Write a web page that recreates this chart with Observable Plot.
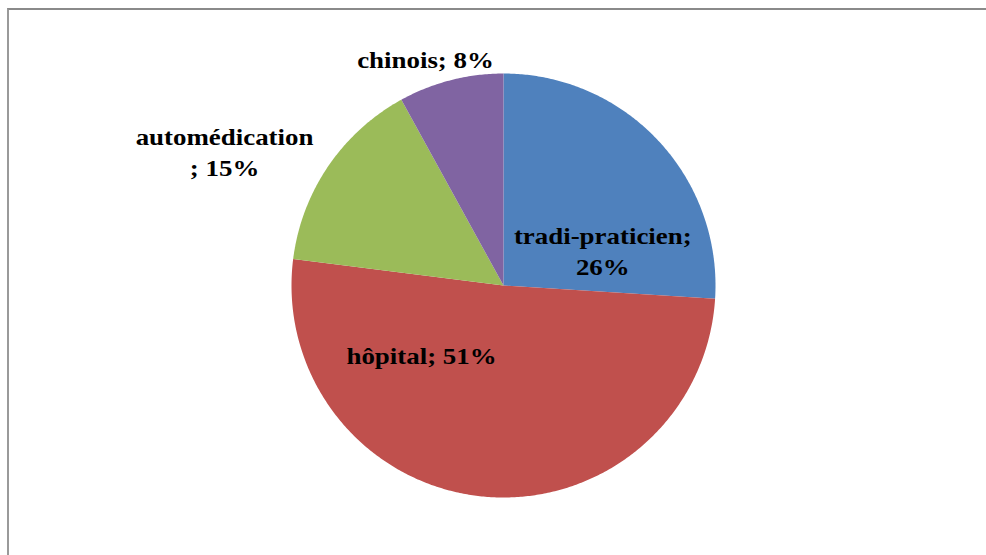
<!DOCTYPE html>
<html>
<head>
<meta charset="utf-8">
<script src="https://cdn.jsdelivr.net/npm/d3@7"></script>
<script src="https://cdn.jsdelivr.net/npm/@observablehq/plot@0.6"></script>
<style>
  html, body { margin: 0; padding: 0; background: #fff; }
  #wrap { position: relative; width: 986px; height: 555px; overflow: hidden; }
  #frame { position: absolute; left: 7px; top: 8px; right: -10px; bottom: -10px;
           border-top: 2px solid #8a8a8a; border-left: 2px solid #9a9a9a; pointer-events: none; }
  #chart { position: absolute; left: 0; top: 0; }
</style>
</head>
<body>
<div id="wrap"><div id="chart"></div><div id="frame"></div></div>
<script>
// ---- data ----
const categories = ["tradi-praticien", "hôpital", "automédication", "chinois"];
const values = [26, 51, 15, 8];
const labelTexts = ["tradi-praticien;\n26%", "hôpital; 51%", "automédication\n; 15%", "chinois; 8%"];
const colors = ["#4F81BD", "#C0504D", "#9BBB59", "#8064A2"];
// label placement (radial factor along mid-angle, then pixel offsets)
const labelRadius = [0.5, 0.4, 1.3, 1.1];
const labelDx = [22, -74, -51, -20];
const labelDy = [37, -16, 20, -1];

// ---- geometry from pie layout ----
const pie = d3.pie().sort(null).value(d => d)(values);
const wedgePts = [];
pie.forEach((p, i) => {
  const cat = categories[i];
  wedgePts.push({cat, x: 0, y: 0});
  const n = Math.max(2, Math.ceil((p.endAngle - p.startAngle) / (Math.PI / 360)));
  for (let k = 0; k <= n; k++) {
    const a = p.startAngle + (p.endAngle - p.startAngle) * k / n;
    wedgePts.push({cat, x: Math.sin(a), y: Math.cos(a)});
  }
});
const labels = pie.map((p, i) => {
  const a = (p.startAngle + p.endAngle) / 2;
  return {text: labelTexts[i], x: labelRadius[i] * Math.sin(a), y: labelRadius[i] * Math.cos(a), dx: labelDx[i], dy: labelDy[i]};
});

const cx = 503, cy = 285, r = 212;
const chart = Plot.plot({
  width: 986,
  height: 555,
  margin: 0,
  style: {background: "transparent", overflow: "visible"},
  x: {domain: [-1, 1], range: [cx - r, cx + r], axis: null},
  y: {domain: [-1, 1], range: [cy + r, cy - r], axis: null},
  color: {domain: categories, range: colors},
  marks: [
    Plot.line(wedgePts, {x: "x", y: "y", z: "cat", fill: "cat", stroke: "none", curve: "linear-closed"}),
    ...labels.map(l => Plot.text([l], {
      x: "x", y: "y", text: "text", dx: l.dx, dy: l.dy,
      fontFamily: "Liberation Serif, Times New Roman, serif", fontWeight: "bold", fontSize: 23,
      lineHeight: 1.33, fill: "#000", className: "pie-label"
    }))
  ]
});
document.getElementById("chart").appendChild(chart);
// Reference text is horizontally wide: stretch glyphs a little.
chart.querySelectorAll(".pie-label text").forEach(t => {
  const tr = t.getAttribute("transform") || "";
  t.setAttribute("transform", tr + " scale(1.17,1)");
});
</script>
</body>
</html>
